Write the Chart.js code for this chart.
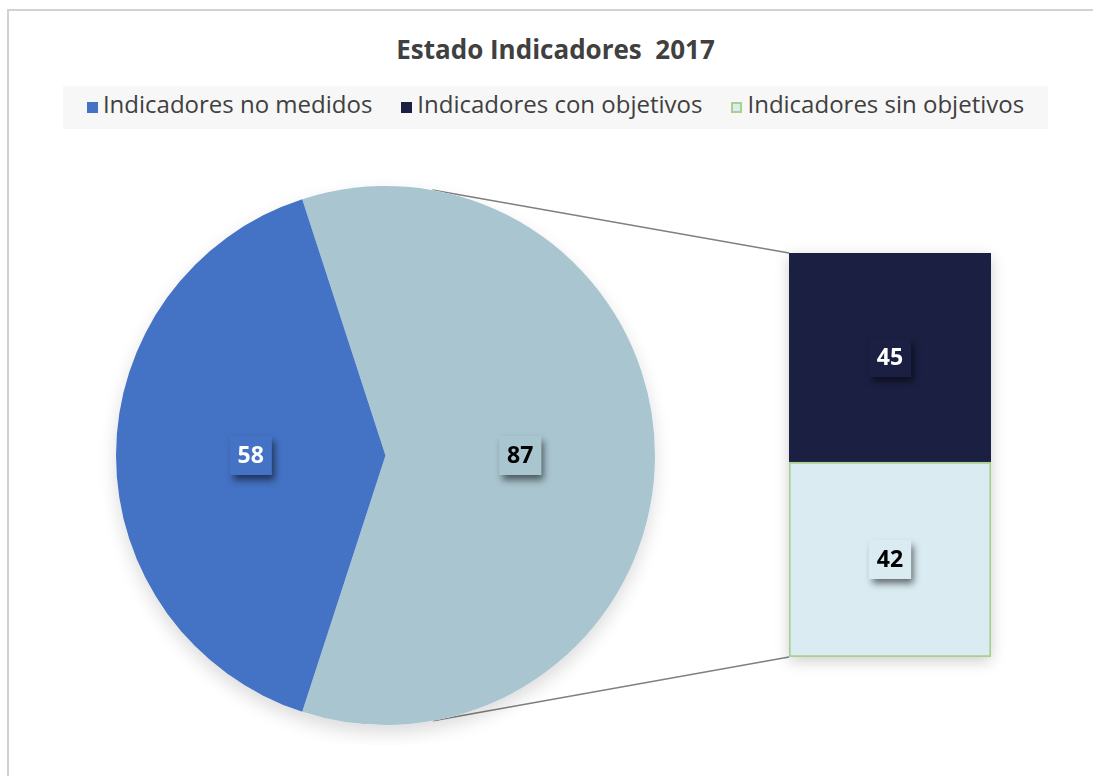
<!DOCTYPE html>
<html><head><meta charset="utf-8">
<script src="https://cdn.jsdelivr.net/npm/chart.js@4.4.1/dist/chart.umd.min.js"></script>
<style>
html,body{margin:0;padding:0;background:#fff;}
#wrap{position:relative;width:1093px;height:776px;overflow:hidden;}
#frame{position:absolute;left:7px;top:9px;width:1200px;height:900px;border-top:2px solid #d2d2d2;border-left:2px solid #d2d2d2;}
#title{position:absolute;left:63px;width:985px;top:36px;text-align:center;font:bold 26px 'Open Sans';line-height:26px;color:#404040;white-space:pre;}
#legendBox{position:absolute;left:63px;top:86px;width:985px;height:43px;background:#f7f7f7;}
#legend{position:absolute;left:63px;width:985px;top:92px;display:flex;justify-content:center;gap:29px;font:24px 'Open Sans';line-height:24px;color:#404040;white-space:nowrap;}
.item{display:flex;align-items:flex-start;}
.mk{width:11px;height:11px;margin-top:10px;margin-right:5px;box-sizing:border-box;}
canvas{position:absolute;}
#lines{left:0;top:0;z-index:0;}
#pie{left:96px;top:166px;z-index:1;}
#bar{left:769px;top:233px;z-index:1;}
</style></head>
<body><div id="wrap">
<div id="frame"></div>
<div id="title"></div>
<div id="legendBox"></div>
<div id="legend"></div>
<canvas id="lines" width="1093" height="776"></canvas>
<canvas id="pie" width="579" height="579"></canvas>
<canvas id="bar" width="242" height="444"></canvas>
</div>
<script>
const chartTitle = 'Estado Indicadores  2017';
const categories = ['Indicadores no medidos', 'Indicadores con objetivos', 'Indicadores sin objetivos'];
const values = [58, 45, 42];
const colors = ['#4472C4', '#1B1F42', '#DAECF2'];
const borderColors = ['#4472C4', '#1B1F42', '#A9D18E'];
const otherColor = '#A9C5CF';
const labelTextColors = ['#ffffff', '#ffffff', '#000000'];
const otherLabelColor = '#000000';

document.getElementById('title').textContent = chartTitle;
const leg = document.getElementById('legend');
categories.forEach((c, i) => {
  const it = document.createElement('div'); it.className = 'item';
  const mk = document.createElement('div'); mk.className = 'mk';
  mk.style.background = colors[i];
  if (i === 2) mk.style.border = '2px solid ' + borderColors[i];
  const tx = document.createElement('span'); tx.textContent = c;
  it.appendChild(mk); it.appendChild(tx); leg.appendChild(it);
});

const otherTotal = values[1] + values[2];
const pieValues = [otherTotal, values[0]];

const boxLabels = {
  id: 'boxLabels',
  afterDatasetsDraw(chart, args, opts) {
    const ctx = chart.ctx;
    chart.data.datasets.forEach((ds, di) => {
      const meta = chart.getDatasetMeta(di);
      meta.data.forEach((el, i) => {
        let x, y;
        if (chart.config.type === 'pie') { const p = el.tooltipPosition(); x = p.x; y = p.y; }
        else { x = el.x; y = (el.y + el.base) / 2; }
        const txt = String(ds.data[i]);
        const bg = Array.isArray(ds.backgroundColor) ? ds.backgroundColor[i] : ds.backgroundColor;
        const fg = Array.isArray(ds.labelColor) ? ds.labelColor[i] : ds.labelColor;
        ctx.save();
        ctx.font = 'bold 23px "Open Sans"';
        const w = ctx.measureText(txt).width + 16, h = 39;
        ctx.shadowColor = 'rgba(0,0,0,0.55)'; ctx.shadowBlur = 7; ctx.shadowOffsetX = 3; ctx.shadowOffsetY = 5;
        ctx.fillStyle = bg;
        ctx.fillRect(x - w / 2, y - h / 2, w, h);
        ctx.restore();
        ctx.save();
        ctx.font = 'bold 23px "Open Sans"';
        ctx.fillStyle = fg; ctx.textAlign = 'center'; ctx.textBaseline = 'middle';
        ctx.fillText(txt, x, y + 1);
        ctx.restore();
      });
    });
  }
};

const pieShadow = {
  id: 'pieShadow',
  beforeDatasetsDraw(chart) {
    const el = chart.getDatasetMeta(0).data[0];
    const ctx = chart.ctx;
    ctx.save();
    ctx.shadowColor = 'rgba(0,0,0,0.14)'; ctx.shadowBlur = 18; ctx.shadowOffsetY = 8;
    ctx.fillStyle = '#fff';
    ctx.beginPath(); ctx.arc(el.x, el.y, el.outerRadius, 0, Math.PI * 2); ctx.fill();
    ctx.restore();
  }
};
const barShadow = {
  id: 'barShadow',
  beforeDatasetsDraw(chart) {
    const top = chart.getDatasetMeta(1).data[0], bot = chart.getDatasetMeta(0).data[0];
    const ctx = chart.ctx;
    ctx.save();
    ctx.shadowColor = 'rgba(0,0,0,0.2)'; ctx.shadowBlur = 14; ctx.shadowOffsetY = 4;
    ctx.fillStyle = '#fff';
    ctx.fillRect(top.x - top.width / 2, top.y, top.width, bot.base - top.y);
    ctx.restore();
  }
};

const pieChart = new Chart(document.getElementById('pie'), {
  type: 'pie',
  data: {
    labels: ['Otros', categories[0]],
    datasets: [{
      data: pieValues,
      backgroundColor: [otherColor, colors[0]],
      labelColor: [otherLabelColor, labelTextColors[0]],
      borderWidth: 0
    }]
  },
  options: {
    responsive: false, animation: false,
    rotation: 180 * values[0] / (values[0] + otherTotal) - 90,
    layout: { padding: 20 },
    plugins: { legend: { display: false }, tooltip: { enabled: false }, title: { display: false } }
  },
  plugins: [pieShadow, boxLabels]
});

const barChart = new Chart(document.getElementById('bar'), {
  type: 'bar',
  data: {
    labels: [''],
    datasets: [
      { label: categories[2], data: [values[2]], backgroundColor: colors[2], borderColor: borderColors[2], borderWidth: 2, borderSkipped: false, labelColor: labelTextColors[2] },
      { label: categories[1], data: [values[1]], backgroundColor: colors[1], borderWidth: 0, labelColor: labelTextColors[1] }
    ]
  },
  options: {
    responsive: false, animation: false,
    layout: { padding: 20 },
    datasets: { bar: { barPercentage: 1, categoryPercentage: 1 } },
    scales: {
      x: { stacked: true, display: false },
      y: { stacked: true, display: false, min: 0, max: otherTotal }
    },
    plugins: { legend: { display: false }, tooltip: { enabled: false } }
  },
  plugins: [barShadow, boxLabels]
});

// connector lines: tangents from bar corners to pie circle
(function () {
  const pc = document.getElementById('pie'), bc = document.getElementById('bar');
  const pm = pieChart.getDatasetMeta(0).data[0];
  const C = { x: pc.offsetLeft + pm.x, y: pc.offsetTop + pm.y }, r = pm.outerRadius;
  const topEl = barChart.getDatasetMeta(1).data[0], botEl = barChart.getDatasetMeta(0).data[0];
  const P1 = { x: bc.offsetLeft + topEl.x - topEl.width / 2, y: bc.offsetTop + topEl.y };
  const P2 = { x: bc.offsetLeft + botEl.x - botEl.width / 2, y: bc.offsetTop + botEl.base };
  function tangent(P, upper) {
    const dx = P.x - C.x, dy = P.y - C.y, d = Math.hypot(dx, dy);
    const a = Math.atan2(dy, dx), b = Math.acos(r / d);
    const t1 = { x: C.x + r * Math.cos(a + b), y: C.y + r * Math.sin(a + b) };
    const t2 = { x: C.x + r * Math.cos(a - b), y: C.y + r * Math.sin(a - b) };
    return upper ? (t1.y < t2.y ? t1 : t2) : (t1.y > t2.y ? t1 : t2);
  }
  const ctx = document.getElementById('lines').getContext('2d');
  ctx.strokeStyle = '#808080'; ctx.lineWidth = 1.5;
  [[P1, true], [P2, false]].forEach(([P, up]) => {
    const T = tangent(P, up);
    ctx.beginPath(); ctx.moveTo(T.x, T.y); ctx.lineTo(P.x, P.y); ctx.stroke();
  });
})();
</script>
</body></html>
